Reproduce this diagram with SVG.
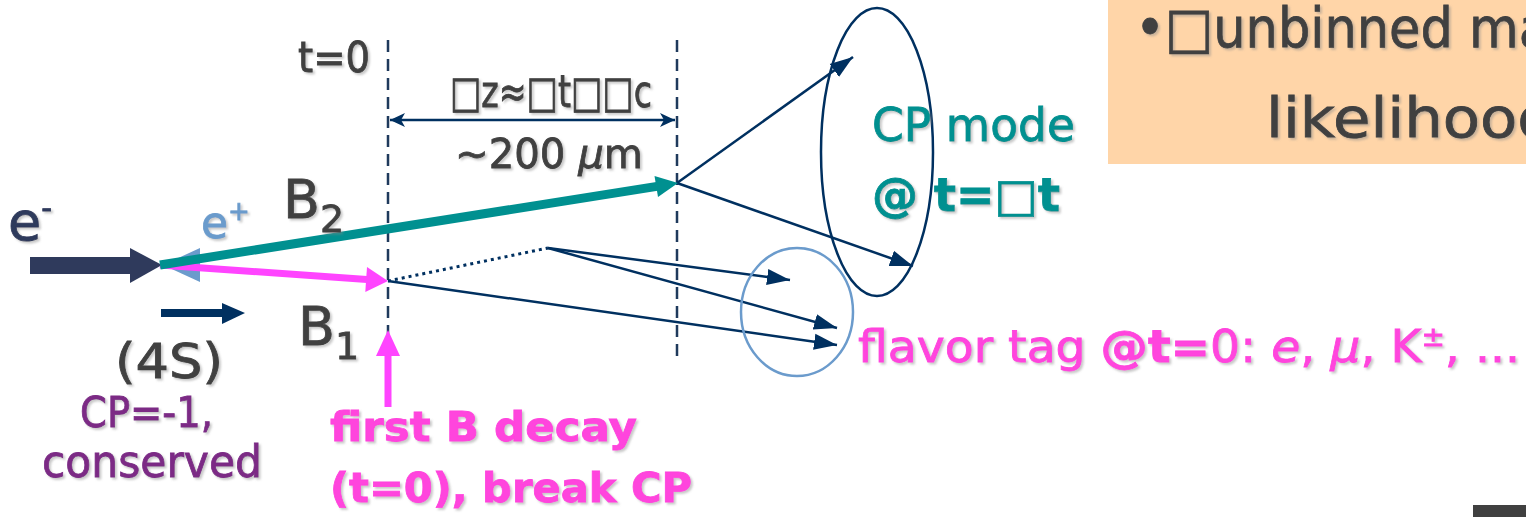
<svg xmlns="http://www.w3.org/2000/svg" width="1526" height="517" viewBox="0 0 1526 517">
  <defs>
    <filter id="sh" x="-5%" y="-20%" width="110%" height="140%">
      <feDropShadow dx="2" dy="2" stdDeviation="1" flood-color="#888" flood-opacity="0.45"/>
    </filter>
    <marker id="ah" markerUnits="userSpaceOnUse" markerWidth="24" markerHeight="18" refX="23" refY="9" orient="auto">
      <path d="M0,1 L23,9 L0,17 Z" fill="#003060"/>
    </marker>
    <marker id="dh" markerUnits="userSpaceOnUse" markerWidth="16" markerHeight="14" refX="15" refY="7" orient="auto-start-reverse">
      <path d="M0,0 L15,7 L0,14 L4,7 Z" fill="#003060"/>
    </marker>
  </defs>
  <style>
    text { font-family: "DejaVu Sans", "Noto Sans", sans-serif; filter: url(#sh); stroke-width: 0.8; }
    .g { fill: #404040; stroke: #404040; }
    .teal { fill: #009090; stroke: #009090; }
    .pink { fill: #ff44dd; stroke: #ff44dd; }
    .purp { fill: #7b2a85; stroke: #7b2a85; }
    .em { fill: #2f3a5c; stroke: #2f3a5c; }
    .ep { fill: #6b9bcc; stroke: #6b9bcc; }
    .dash { stroke: #1f3a5c; stroke-width: 2.5; stroke-dasharray: 12 7; fill: none; }
    .nav { stroke: #003060; stroke-width: 2.5; fill: none; }
    .b { font-weight: bold; }
  </style>

  <g id="note-box">
    <rect x="1108" y="0" width="418" height="164" fill="#ffd5a8"/>
    <text class="g" x="1135" y="47" font-size="56" textLength="415" lengthAdjust="spacingAndGlyphs">•□unbinned ma</text>
    <text class="g" x="1266" y="137" font-size="56" textLength="290" lengthAdjust="spacingAndGlyphs">likelihood</text>
  </g>
  <rect x="1473" y="505" width="53" height="12" fill="#404040"/>

  <g id="connectors">
    <line class="dash" x1="388" y1="40" x2="388" y2="356"/>
    <line class="dash" x1="677" y1="40" x2="677" y2="356"/>
    <line class="nav" x1="390" y1="120" x2="675" y2="120" marker-start="url(#dh)" marker-end="url(#dh)"/>
    <line x1="388" y1="281" x2="548" y2="248" stroke="#003060" stroke-width="3" stroke-dasharray="3 4"/>
    <line class="nav" x1="548" y1="248" x2="790" y2="280" marker-end="url(#ah)"/>
    <line class="nav" x1="548" y1="248" x2="837" y2="328" marker-end="url(#ah)"/>
    <line class="nav" x1="388" y1="281" x2="837" y2="345" marker-end="url(#ah)"/>
    <line class="nav" x1="677" y1="183" x2="853" y2="57" marker-end="url(#ah)"/>
    <line class="nav" x1="677" y1="183" x2="913" y2="266" marker-end="url(#ah)"/>
    <!-- e- beam -->
    <rect x="30" y="257" width="102" height="17" fill="#2f3a5c"/>
    <polygon points="130,248 162,265 130,283" fill="#2f3a5c"/>
    <!-- e+ beam head -->
    <polygon points="200,248 163,265 200,282" fill="#6b9bcc"/>
    <!-- B1 -->
    <line x1="160" y1="265" x2="367" y2="279.5" stroke="#ff44ff" stroke-width="7"/>
    <polygon points="365.3,292 388,281 367,267" fill="#ff44ff"/>
    <!-- B2 -->
    <line x1="160" y1="265" x2="657" y2="186.4" stroke="#009090" stroke-width="9"/>
    <polygon points="658,197 678,183 654.5,176" fill="#009090"/>
    <!-- boost arrow -->
    <line x1="161" y1="313" x2="224" y2="313" stroke="#003060" stroke-width="8"/>
    <polygon points="222,303 245,313 222,324" fill="#003060"/>
    <!-- first decay pointer -->
    <line x1="388" y1="352" x2="388" y2="407" stroke="#ff44ff" stroke-width="7"/>
    <polygon points="376,356 388,330 400,356" fill="#ff44ff"/>
  </g>

  <g id="ellipses">
    <ellipse cx="877" cy="152" rx="56" ry="144" fill="none" stroke="#003060" stroke-width="2.5"/>
    <ellipse cx="797" cy="312" rx="56" ry="64" fill="none" stroke="#6b9bcc" stroke-width="2.5"/>
  </g>

  <g id="labels">
    <text class="g" x="298" y="72" font-size="42" textLength="72" lengthAdjust="spacingAndGlyphs">t=0</text>
    <text class="g" x="450" y="107" font-size="44" textLength="202" lengthAdjust="spacingAndGlyphs">□z≈□t□□c</text>
    <text class="g" x="455" y="168" font-size="40" textLength="188" lengthAdjust="spacingAndGlyphs">~200 <tspan font-style="italic">µ</tspan>m</text>
    <text class="em" x="8" y="240" font-size="54">e<tspan font-size="30" dy="-22">-</tspan></text>
    <text class="ep" x="201" y="238" font-size="44">e<tspan font-size="26" dy="-18">+</tspan></text>
    <text class="g" x="283" y="218" font-size="54">B<tspan font-size="38" dy="14">2</tspan></text>
    <text class="g" x="298" y="345" font-size="54">B<tspan font-size="38" dy="14">1</tspan></text>
    <text class="g" x="115" y="378" font-size="48" textLength="108" lengthAdjust="spacingAndGlyphs">(4S)</text>
    <text class="purp" x="80" y="427" font-size="42" textLength="133" lengthAdjust="spacingAndGlyphs">CP=-1,</text>
    <text class="purp" x="42" y="477" font-size="44" textLength="220" lengthAdjust="spacingAndGlyphs">conserved</text>
    <text class="pink b" x="330" y="441" font-size="40" textLength="307" lengthAdjust="spacingAndGlyphs">first B decay</text>
    <text class="pink b" x="330" y="502" font-size="40" textLength="362" lengthAdjust="spacingAndGlyphs">(t=0), break CP</text>
    <text class="teal" x="872" y="141" font-size="46" textLength="203" lengthAdjust="spacingAndGlyphs">CP mode</text>
    <text class="teal b" x="872" y="211" font-size="46" textLength="188" lengthAdjust="spacingAndGlyphs">@ t=□t</text>
    <text class="pink" x="858" y="362" font-size="44" textLength="662" lengthAdjust="spacingAndGlyphs">flavor tag <tspan font-weight="bold">@t=</tspan>0: <tspan font-style="italic">e</tspan>, <tspan font-style="italic">µ</tspan>, K<tspan font-size="26" dy="-16">±</tspan><tspan dy="16">, ...</tspan></text>
  </g>
</svg>
